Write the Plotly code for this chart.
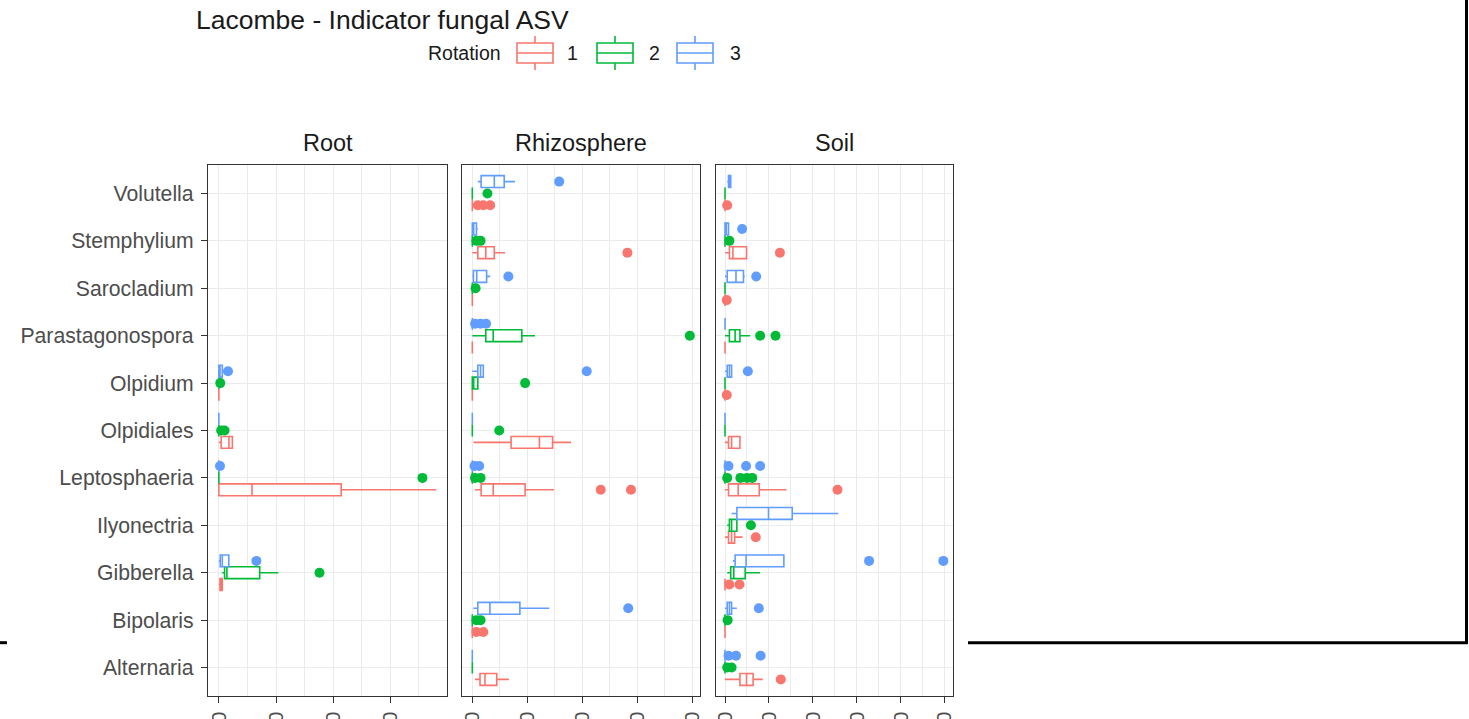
import plotly.graph_objects as go

# ---------------- data ----------------
CATEGORIES = ["Alternaria", "Bipolaris", "Gibberella", "Ilyonectria", "Leptosphaeria",
              "Olpidiales", "Olpidium", "Parastagonospora", "Sarocladium", "Stemphylium", "Volutella"]
PANELS = ["Root", "Rhizosphere", "Soil"]
ROTATIONS = ["1", "2", "3"]
ROT_COLORS = ["#F8766D", "#00BA38", "#619CFF"]

X_TICKS = {"Root": [0, 50, 100, 150],
           "Rhizosphere": [0, 20, 40, 60, 80],
           "Soil": [0, 10, 20, 30, 40, 50]}
X_RANGES = {"Root": [-9.5, 199.5], "Rhizosphere": [-3.75, 82.8], "Soil": [-2.05, 51.9]}

Z = (0, 0, 0, 0, 0)
# box stats: (lowerfence, q1, median, q3, upperfence)
ROOT_R1 = {"Gibberella": (0, 1, 2, 3, 3), "Leptosphaeria": (0, 0, 29, 107, 190),
           "Olpidiales": (0, 2, 8.8, 11.8, 11.8), "Olpidium": Z}
ROOT_R1_OUT = {}
ROOT_R2 = {"Gibberella": (3, 5, 7, 35.7, 52), "Leptosphaeria": Z, "Olpidiales": Z, "Olpidium": Z}
ROOT_R2_OUT = {"Gibberella": [88], "Leptosphaeria": [178], "Olpidiales": [2, 5], "Olpidium": [1.2]}
ROOT_R3 = {"Gibberella": (0, 1.2, 3, 8.7, 8.7), "Leptosphaeria": Z, "Olpidiales": Z,
           "Olpidium": (0, 0, 1, 3, 4)}
ROOT_R3_OUT = {"Gibberella": [32.8], "Leptosphaeria": [1], "Olpidium": [8]}

RHIZO_R1 = {"Alternaria": (1, 2.8, 4.6, 8.9, 13.3), "Bipolaris": Z,
            "Leptosphaeria": (1, 3.2, 7.6, 19.2, 29.7), "Olpidiales": (0.4, 14.1, 24.4, 29.2, 35.9),
            "Olpidium": Z, "Parastagonospora": Z, "Sarocladium": Z,
            "Stemphylium": (0, 2, 4.9, 8, 11.9), "Volutella": Z}
RHIZO_R1_OUT = {"Bipolaris": [1.5, 4], "Leptosphaeria": [46.7, 57.7], "Stemphylium": [56.4],
                "Volutella": [2, 4, 6.5]}
RHIZO_R2 = {"Alternaria": Z, "Bipolaris": Z, "Leptosphaeria": Z, "Olpidiales": Z,
            "Olpidium": (0, 0, 0.5, 2, 2), "Parastagonospora": (0, 4.9, 7.6, 18, 22.8),
            "Sarocladium": Z, "Stemphylium": Z, "Volutella": Z}
RHIZO_R2_OUT = {"Bipolaris": [1.5, 3], "Leptosphaeria": [1, 3], "Olpidiales": [9.8],
                "Olpidium": [19.2], "Parastagonospora": [79.1], "Sarocladium": [1.2],
                "Stemphylium": [1.5, 3], "Volutella": [5.5]}
RHIZO_R3 = {"Alternaria": Z, "Bipolaris": (0.4, 2, 6.4, 17.3, 28), "Leptosphaeria": Z,
            "Olpidiales": Z, "Olpidium": (0, 2, 3, 4, 4), "Parastagonospora": Z,
            "Sarocladium": (0, 0.4, 1.6, 5.2, 6.5), "Stemphylium": (0, 0, 0.5, 1.5, 2),
            "Volutella": (2, 3.2, 8, 11.6, 15.5)}
RHIZO_R3_OUT = {"Bipolaris": [56.7], "Leptosphaeria": [0.8, 2.5], "Olpidium": [41.6],
                "Parastagonospora": [1, 3, 5], "Sarocladium": [13.1], "Volutella": [31.6]}

SOIL_R1 = {"Alternaria": (0, 3.4, 4.9, 6.4, 8.6), "Bipolaris": Z, "Gibberella": Z,
           "Ilyonectria": (0, 0.8, 1.5, 2.2, 4), "Leptosphaeria": (0, 0.8, 3, 7.8, 14),
           "Olpidiales": (0, 0.8, 1.5, 3.4, 3.4), "Olpidium": Z, "Parastagonospora": Z,
           "Sarocladium": Z, "Stemphylium": (0, 1, 1.8, 4.9, 4.9), "Volutella": Z}
SOIL_R1_OUT = {"Alternaria": [12.7], "Gibberella": [1, 3.3], "Ilyonectria": [7],
               "Leptosphaeria": [25.6], "Olpidium": [0.4], "Sarocladium": [0.4],
               "Stemphylium": [12.5], "Volutella": [0.5]}
SOIL_R2 = {"Alternaria": Z, "Bipolaris": Z, "Gibberella": (0.5, 1.3, 2, 4.6, 8),
           "Ilyonectria": (0.5, 1, 1.5, 2.7, 2.7), "Leptosphaeria": Z, "Olpidiales": Z,
           "Olpidium": Z, "Parastagonospora": (0, 1, 2.3, 3.4, 5.7), "Sarocladium": Z,
           "Stemphylium": Z, "Volutella": Z}
SOIL_R2_OUT = {"Alternaria": [0.5, 1.5], "Bipolaris": [0.6], "Ilyonectria": [5.9],
               "Leptosphaeria": [0.5, 3.5, 5, 6.2], "Parastagonospora": [8, 11.5],
               "Stemphylium": [1]}
SOIL_R3 = {"Alternaria": Z, "Bipolaris": (0, 0.5, 1, 1.5, 2.7),
           "Gibberella": (1.8, 2.3, 4.8, 13.4, 13.4), "Ilyonectria": (1.5, 2.7, 9.9, 15.3, 25.8),
           "Leptosphaeria": Z, "Olpidiales": Z, "Olpidium": (0, 0.5, 1, 1.5, 1.5),
           "Parastagonospora": Z, "Sarocladium": (0, 0.5, 2.5, 4.2, 4.5),
           "Stemphylium": (0, 0, 0.3, 0.8, 0.8), "Volutella": (0.5, 0.8, 1, 1.3, 1.5)}
SOIL_R3_OUT = {"Alternaria": [0.8, 2.5, 8.1], "Bipolaris": [7.7], "Gibberella": [32.8, 49.7],
               "Leptosphaeria": [0.8, 4.8, 8], "Olpidium": [5.2], "Sarocladium": [7.1],
               "Stemphylium": [3.9]}

STATS = {"Root": [ROOT_R1, ROOT_R2, ROOT_R3],
         "Rhizosphere": [RHIZO_R1, RHIZO_R2, RHIZO_R3],
         "Soil": [SOIL_R1, SOIL_R2, SOIL_R3]}
OUTLIERS = {"Root": [ROOT_R1_OUT, ROOT_R2_OUT, ROOT_R3_OUT],
            "Rhizosphere": [RHIZO_R1_OUT, RHIZO_R2_OUT, RHIZO_R3_OUT],
            "Soil": [SOIL_R1_OUT, SOIL_R2_OUT, SOIL_R3_OUT]}

TITLE = "Lacombe - Indicator fungal ASV"
LEGEND_TITLE = "Rotation"

# ---------------- layout helpers ----------------
W, H = 1469, 719
def px(x):
    return x / W
def py(y):
    return 1 - y / H

FONT = "Liberation Sans, Arial, Helvetica, sans-serif"
DOMAINS = {"Root": [px(208), px(447)], "Rhizosphere": [px(462), px(700)], "Soil": [px(716), px(953)]}
YDOM = [py(696), py(165)]
OFFSETS = [-0.25, 0.0, 0.25]
BOXW = 0.25

fig = go.Figure()
for pi, panel in enumerate(PANELS):
    xa = "x" if pi == 0 else f"x{pi+1}"
    ya = "y" if pi == 0 else f"y{pi+1}"
    for ri in range(3):
        stats = STATS[panel][ri]
        color = ROT_COLORS[ri]
        cats = [c for c in CATEGORIES if c in stats]
        if cats:
            fig.add_trace(go.Box(
                orientation="h",
                y=[CATEGORIES.index(c) + OFFSETS[ri] for c in cats],
                lowerfence=[stats[c][0] for c in cats],
                q1=[stats[c][1] for c in cats],
                median=[stats[c][2] for c in cats],
                q3=[stats[c][3] for c in cats],
                upperfence=[stats[c][4] for c in cats],
                width=BOXW, whiskerwidth=0,
                line=dict(color=color, width=1.6),
                fillcolor="white", boxpoints=False,
                xaxis=xa, yaxis=ya, showlegend=False, name=ROTATIONS[ri]))
        outs = OUTLIERS[panel][ri]
        ox, oy = [], []
        for c, vals in outs.items():
            for v in vals:
                ox.append(v)
                oy.append(CATEGORIES.index(c) + OFFSETS[ri])
        if ox:
            fig.add_trace(go.Scatter(
                x=ox, y=oy, mode="markers",
                marker=dict(color=color, size=10, line=dict(width=0)),
                xaxis=xa, yaxis=ya, showlegend=False, name=ROTATIONS[ri]))

GRID = "#ebebeb"
AXLINE = "#333333"
layout = dict(
    width=W, height=H, autosize=False,
    margin=dict(l=0, r=0, t=0, b=0, pad=0),
    paper_bgcolor="white", plot_bgcolor="white",
    showlegend=False,
    font=dict(family=FONT, color="#1a1a1a"),
)
for pi, panel in enumerate(PANELS):
    xk = "xaxis" if pi == 0 else f"xaxis{pi+1}"
    yk = "yaxis" if pi == 0 else f"yaxis{pi+1}"
    ya = "y" if pi == 0 else f"y{pi+1}"
    xa = "x" if pi == 0 else f"x{pi+1}"
    ticks = X_TICKS[panel]
    step = ticks[1] - ticks[0]
    layout[xk] = dict(
        domain=DOMAINS[panel], anchor=ya, range=X_RANGES[panel],
        tickvals=ticks, ticktext=[str(t) for t in ticks],
        tickangle=-90, ticks="outside", ticklen=6, tickwidth=1.3, tickcolor=AXLINE,
        tickfont=dict(size=21, color="#4d4d4d", family=FONT),
        showgrid=True, gridcolor=GRID, gridwidth=1.2,
        minor=dict(tickvals=[t + step / 2 for t in ticks], showgrid=True, gridcolor=GRID,
                   gridwidth=0.7, ticks=""),
        showline=True, mirror=True, linecolor=AXLINE, linewidth=1.3,
        zeroline=False, automargin=False, fixedrange=True,
    )
    layout[yk] = dict(
        domain=YDOM, anchor=xa, range=[-0.6, len(CATEGORIES) - 0.4],
        tickvals=list(range(len(CATEGORIES))), ticktext=CATEGORIES,
        showticklabels=(pi == 0), ticks="outside" if pi == 0 else "",
        ticklen=6, tickwidth=1.3, tickcolor=AXLINE, ticklabelstandoff=3,
        tickfont=dict(size=21.2, color="#4d4d4d", family=FONT),
        showgrid=True, gridcolor=GRID, gridwidth=1.2,
        showline=True, mirror=True, linecolor=AXLINE, linewidth=1.3,
        zeroline=False, automargin=False, fixedrange=True,
    )
fig.update_layout(**layout)

annotations = []
for panel in PANELS:
    d = DOMAINS[panel]
    annotations.append(dict(text=panel, x=(d[0] + d[1]) / 2, y=py(143), xref="paper", yref="paper",
                            xanchor="center", yanchor="middle", showarrow=False,
                            font=dict(size=23.5, color="#1a1a1a", family=FONT)))
annotations.append(dict(text=TITLE, x=px(194), y=py(20), xref="paper", yref="paper",
                        xanchor="left", yanchor="middle", showarrow=False,
                        font=dict(size=26.5, color="#1a1a1a", family=FONT)))
annotations.append(dict(text=LEGEND_TITLE, x=px(503), y=py(53), xref="paper", yref="paper",
                        xanchor="right", yanchor="middle", showarrow=False,
                        font=dict(size=19.5, color="#1a1a1a", family=FONT)))

shapes = []
KEY_X = [517, 597, 677]
LABEL_X = [572, 654, 735]
for ri in range(3):
    c = ROT_COLORS[ri]
    x0, x1 = KEY_X[ri], KEY_X[ri] + 36
    xm = (x0 + x1) / 2
    shapes.append(dict(type="rect", xref="paper", yref="paper", x0=px(x0), x1=px(x1),
                       y0=py(63), y1=py(43), line=dict(color=c, width=1.6), fillcolor="white"))
    shapes.append(dict(type="line", xref="paper", yref="paper", x0=px(x0), x1=px(x1),
                       y0=py(53), y1=py(53), line=dict(color=c, width=1.6)))
    shapes.append(dict(type="line", xref="paper", yref="paper", x0=px(xm), x1=px(xm),
                       y0=py(36), y1=py(43), line=dict(color=c, width=1.6)))
    shapes.append(dict(type="line", xref="paper", yref="paper", x0=px(xm), x1=px(xm),
                       y0=py(63), y1=py(70), line=dict(color=c, width=1.6)))
    annotations.append(dict(text=ROTATIONS[ri], x=px(LABEL_X[ri]), y=py(53), xref="paper",
                            yref="paper", xanchor="center", yanchor="middle", showarrow=False,
                            font=dict(size=19.5, color="#1a1a1a", family=FONT)))

# page frame lines seen in the reference
shapes.append(dict(type="line", xref="paper", yref="paper", x0=px(0), x1=px(7),
                   y0=py(642.7), y1=py(642.7), line=dict(color="black", width=3)))
shapes.append(dict(type="line", xref="paper", yref="paper", x0=px(968), x1=px(1467.5),
                   y0=py(642.7), y1=py(642.7), line=dict(color="black", width=3)))
shapes.append(dict(type="line", xref="paper", yref="paper", x0=px(1466.5), x1=px(1466.5),
                   y0=py(0), y1=py(644), line=dict(color="black", width=3)))

fig.update_layout(annotations=annotations, shapes=shapes)
fig.write_html("out.html")
